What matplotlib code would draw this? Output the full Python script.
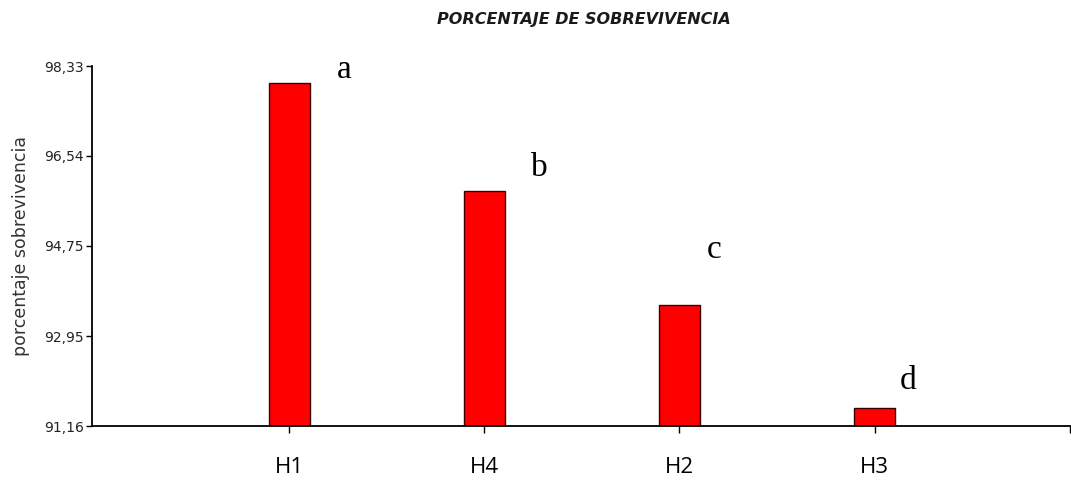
import numpy as np
import matplotlib.pyplot as plt

# datos
categorias = ["H1", "H4", "H2", "H3"]
valores = [97.99, 95.84, 93.57, 91.52]
letras = ["a", "b", "c", "d"]
yticks = [91.16, 92.95, 94.75, 96.54, 98.33]
ytick_labels = ["91,16", "92,95", "94,75", "96,54", "98,33"]

fig = plt.figure(figsize=(10.71, 4.8), dpi=100)
ax = fig.add_axes([0.0859, 0.1125, 0.913, 0.75])

x = np.arange(1, len(categorias) + 1)
ax.bar(x, valores, width=0.21, bottom=0, color="#ff0000", edgecolor="#3a0000", linewidth=1)

# letras de significancia
desp_x = [0.28, 0.28, 0.18, 0.17]
desp_y = [0.26, 0.47, 1.10, 0.55]
for xi, v, l, dx, dy in zip(x, valores, letras, desp_x, desp_y):
    ax.text(xi + dx, v + dy, l, ha="center", va="center",
            family="Liberation Serif", fontsize=24)

ax.set_xlim(-0.01, 5.0)
ax.set_ylim(91.16, 98.33)
ax.set_xticks(x)
ax.set_xticklabels(categorias, family="Open Sans", fontsize=16)
ax.set_xticks([5.0], minor=True)
ax.set_yticks(yticks)
ax.set_yticklabels(ytick_labels, family="DejaVu Sans", fontsize=10, color="#222222")
ax.tick_params(axis="x", which="both", direction="out", length=5, width=1, pad=17)
ax.tick_params(axis="y", direction="out", length=4, width=1, pad=2)

ax.spines[["top", "right"]].set_visible(False)
ax.spines["left"].set_linewidth(1.3)
ax.spines["bottom"].set_linewidth(1.3)

ax.set_ylabel("porcentaje sobrevivencia", family="DejaVu Sans", fontsize=12.5,
              color="#333333", labelpad=10)
fig.suptitle("PORCENTAJE DE SOBREVIVENCIA", x=0.545, y=0.975, family="DejaVu Sans",
             fontsize=11.5, fontweight="bold", style="italic", color="#1a1a1a")

fig.savefig("out.png", dpi=100)
